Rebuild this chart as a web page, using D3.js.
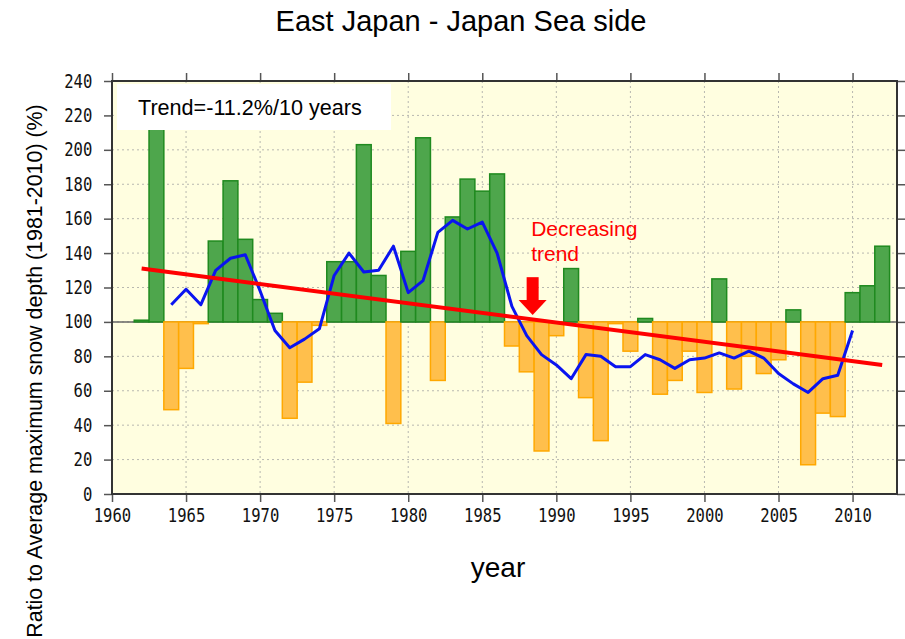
<!DOCTYPE html>
<html>
<head>
<meta charset="utf-8">
<script src="https://cdn.jsdelivr.net/npm/d3@7"></script>
<style>
  html, body { margin: 0; padding: 0; background: #ffffff; }
  svg { display: block; }
</style>
</head>
<body>
<svg id="chart" width="905" height="639"></svg>
<script>
// ---- data ----
const years = d3.range(1962, 2013);
const ratio = [
  101, 228, 49, 73, 99, 147, 182, 148, 113, 105,
  44, 65, 98, 135, 135, 203, 127, 41, 141, 207,
  66, 161, 183, 176, 186, 86, 71, 25, 92, 131,
  56, 31, 99, 83, 102, 58, 66, 83, 59, 125,
  61, 80, 70, 78, 107, 17, 47, 45, 117, 121,
  144
];
const meanYears = d3.range(1964, 2011);
const runningMean = [
  110, 119, 110, 130, 137, 139, 118, 95, 85, 90,
  96, 127, 140, 129, 130, 144, 117, 124, 152, 159,
  154, 158, 140, 109, 92, 81, 75, 67, 81, 80,
  74, 74, 81, 78, 73, 78, 79, 82, 79, 83,
  79, 70, 64, 59, 67, 69, 95
];
const trendYears = [1962, 2012];
const trendValues = [131, 75];
const xTicks = [1960, 1965, 1970, 1975, 1980, 1985, 1990, 1995, 2000, 2005, 2010];
const yTicks = [0, 20, 40, 60, 80, 100, 120, 140, 160, 180, 200, 220, 240];
const baseline = 100;
const titleText = "East Japan - Japan Sea side";
const xLabel = "year";
const yLabel = "Ratio to Average maximum snow depth (1981-2010) (%)";
const trendText = "Trend=-11.2%/10 years";
const noteLines = ["Decreasing", "trend"];
const arrowYear = 1988.4;
const arrowFrom = 126, arrowTo = 104;

// ---- layout ----
const svg = d3.select("#chart");
const L = 112, R = 897, T = 81, B = 494;
const x = d3.scaleLinear().domain([1960, 2013]).range([L, R]);
const y = d3.scaleLinear().domain([0, 240]).range([B, T]);
const bw = x(1961) - x(1960);

svg.append("rect").attr("width", 905).attr("height", 639).attr("fill", "#fff");

const defs = svg.append("defs");
defs.append("clipPath").attr("id", "clip")
  .append("rect").attr("x", L).attr("y", T).attr("width", R - L).attr("height", B - T);

// background
svg.append("rect").attr("x", L).attr("y", T).attr("width", R - L).attr("height", B - T)
  .attr("fill", "#fffee0");

// grid
const grid = svg.append("g").attr("stroke", "#b8b8b0").attr("stroke-width", 1)
  .attr("stroke-dasharray", "2,3");
grid.selectAll(".gx").data(xTicks.filter(d => d > 1960)).join("line")
  .attr("x1", d => x(d)).attr("x2", d => x(d)).attr("y1", T).attr("y2", B);
grid.selectAll(".gy").data(yTicks.filter(d => d > 0 && d < 240)).join("line")
  .attr("x1", L).attr("x2", R).attr("y1", d => y(d)).attr("y2", d => y(d));

const plot = svg.append("g").attr("clip-path", "url(#clip)");

// 100% line
plot.append("line").attr("x1", L).attr("x2", R).attr("y1", y(baseline)).attr("y2", y(baseline))
  .attr("stroke", "#666").attr("stroke-width", 1.5);

// bars
const data = years.map((yr, i) => ({ yr, v: ratio[i] }));
plot.selectAll(".bar").data(data).join("rect")
  .attr("x", d => x(d.yr) - bw / 2)
  .attr("width", bw)
  .attr("y", d => y(Math.max(d.v, baseline)))
  .attr("height", d => Math.abs(y(d.v) - y(baseline)))
  .attr("fill", d => d.v >= baseline ? "#4ea64c" : "#ffbf4c")
  .attr("stroke", d => d.v >= baseline ? "#1f8a1f" : "#ffa800")
  .attr("stroke-width", 1.5);

// running mean
const line = d3.line().x(d => x(d[0])).y(d => y(d[1]));
plot.append("path")
  .datum(meanYears.map((yr, i) => [yr, runningMean[i]]))
  .attr("d", line).attr("fill", "none").attr("stroke", "#0a14f0")
  .attr("stroke-width", 3).attr("stroke-linejoin", "round");

// trend
plot.append("path")
  .datum(trendYears.map((yr, i) => [yr, trendValues[i]]))
  .attr("d", line).attr("fill", "none").attr("stroke", "#ff0000")
  .attr("stroke-width", 4);

// trend box
svg.append("rect").attr("x", L + 5).attr("y", T + 3).attr("width", 274).attr("height", 46)
  .attr("fill", "#ffffff");
svg.append("text").attr("x", L + 26).attr("y", T + 34)
  .attr("font-family", "Liberation Sans, Arial, sans-serif").attr("font-size", 21.6)
  .attr("fill", "#000").text(trendText);

// annotation
const note = svg.append("text").attr("x", x(1988.3)).attr("y", y(150))
  .attr("font-family", "Liberation Sans, Arial, sans-serif").attr("font-size", 21)
  .attr("fill", "#ff0000");
noteLines.forEach((t, i) => note.append("tspan").attr("x", x(1988.3)).attr("dy", i === 0 ? 0 : 25).text(t));

// arrow
const ax = x(arrowYear);
const shaftBottom = y(arrowTo) - 15;
svg.append("rect").attr("x", ax - 6).attr("y", y(arrowFrom)).attr("width", 12)
  .attr("height", shaftBottom - y(arrowFrom)).attr("fill", "#ff0000");
svg.append("path").attr("d", `M${ax - 14},${shaftBottom} L${ax + 14},${shaftBottom} L${ax},${y(arrowTo)} Z`)
  .attr("fill", "#ff0000");

// axes
const tickFont = "DejaVu Sans Mono, monospace";
const axB = svg.append("g").attr("transform", `translate(0,${B})`)
  .call(d3.axisBottom(x).tickValues(xTicks).tickFormat(d3.format("d")).tickSize(8).tickSizeOuter(0));
axB.selectAll("text").attr("font-family", tickFont).attr("font-size", 19).attr("fill", "#111")
  .attr("y", 15).attr("transform", "scale(0.82,1)");
const axT = svg.append("g").attr("transform", `translate(0,${T})`)
  .call(d3.axisTop(x).tickValues(xTicks).tickFormat("").tickSize(8).tickSizeOuter(0));
const axL = svg.append("g").attr("transform", `translate(${L},0)`)
  .call(d3.axisLeft(y).tickValues(yTicks).tickSize(8).tickSizeOuter(0));
axL.selectAll("text").attr("font-family", tickFont).attr("font-size", 19).attr("fill", "#111")
  .attr("x", -24).attr("transform", "scale(0.82,1)");
const axR = svg.append("g").attr("transform", `translate(${R},0)`)
  .call(d3.axisRight(y).tickValues(yTicks).tickFormat("").tickSize(8).tickSizeOuter(0));
[axB, axT, axL, axR].forEach(g => {
  g.select(".domain").remove();
  g.selectAll("line").attr("stroke", "#555").attr("stroke-width", 1.5);
});

// frame
svg.append("rect").attr("x", L).attr("y", T).attr("width", R - L).attr("height", B - T)
  .attr("fill", "none").attr("stroke", "#333").attr("stroke-width", 2);

// titles
svg.append("text").attr("x", 461).attr("y", 31).attr("text-anchor", "middle")
  .attr("font-family", "Liberation Sans, Arial, sans-serif").attr("font-size", 29)
  .attr("fill", "#000").text(titleText);
svg.append("text").attr("x", 498).attr("y", 577).attr("text-anchor", "middle")
  .attr("font-family", "Liberation Sans, Arial, sans-serif").attr("font-size", 28)
  .attr("fill", "#000").text(xLabel);
svg.append("text").attr("transform", "translate(42,371) rotate(-90)").attr("text-anchor", "middle")
  .attr("font-family", "Liberation Sans, Arial, sans-serif").attr("font-size", 21.4)
  .attr("fill", "#000").text(yLabel);
</script>
</body>
</html>
